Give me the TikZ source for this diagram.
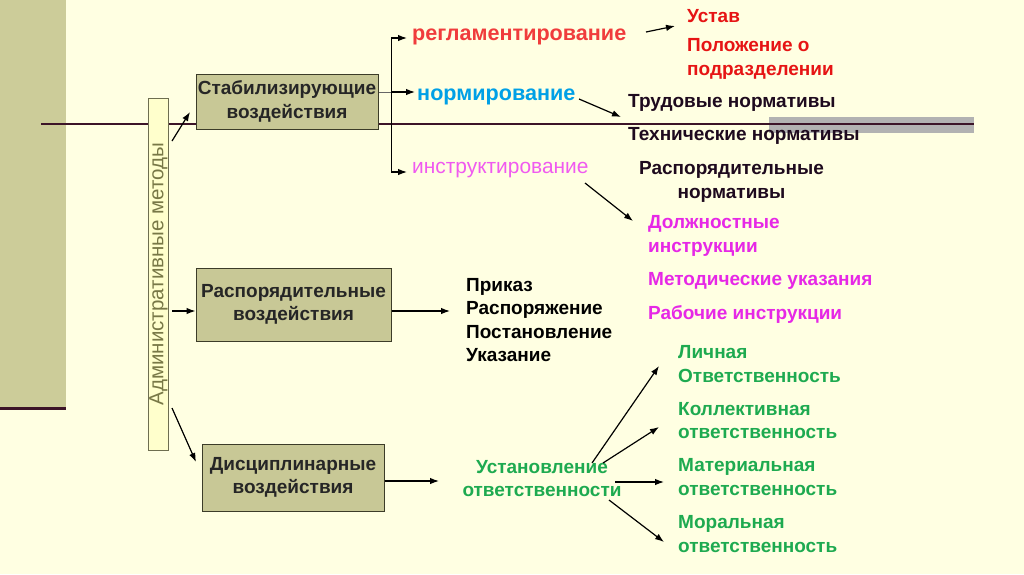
\documentclass[tikz,border=0pt]{standalone}
\usepackage{fontspec}
\setmainfont{Liberation Sans}
\usetikzlibrary{arrows.meta,calc}
\definecolor{bg}{RGB}{255,255,226}
\definecolor{band}{RGB}{204,204,153}
\definecolor{boxfill}{RGB}{200,200,150}
\definecolor{boxline}{RGB}{60,60,40}
\definecolor{barfill}{RGB}{255,255,204}
\definecolor{barline}{RGB}{110,110,80}
\definecolor{bartext}{RGB}{120,120,70}
\definecolor{maroon}{RGB}{60,20,40}
\definecolor{grayband}{RGB}{178,178,178}
\definecolor{redA}{RGB}{240,60,60}
\definecolor{redB}{RGB}{230,20,20}
\definecolor{blueA}{RGB}{0,160,230}
\definecolor{magA}{RGB}{240,90,240}
\definecolor{magB}{RGB}{230,40,230}
\definecolor{greenA}{RGB}{30,170,80}
\definecolor{dark}{RGB}{30,10,30}
\begin{document}
\begin{tikzpicture}[x=1pt,y=-1pt,
  arr/.style={-{Latex[length=9pt,width=6.5pt]},line width=1.2pt,black},
  boxnode/.style={draw=boxline,fill=boxfill,line width=1pt,align=center,font=\bfseries\fontsize{19}{23.5}\selectfont,text=black!85,inner sep=0pt},
  txt/.style={inner sep=0pt,anchor=west,align=left,font=\bfseries\fontsize{19}{23.5}\selectfont},
  meth/.style={inner sep=0pt,anchor=west,font=\bfseries\fontsize{21.6}{24}\selectfont}]
\useasboundingbox (0,0) rectangle (1024,574);
\fill[bg] (0,0) rectangle (1024,574);
\fill[band] (0,0) rectangle (66,408);
\draw[maroon,line width=3pt] (0,408) -- (66,408);
\fill[grayband] (769,117) rectangle (974,133);
\draw[maroon,line width=2pt] (41,124) -- (974,124);

% vertical bar
\node[draw=barline,fill=barfill,line width=1pt,minimum width=20pt,minimum height=352pt,inner sep=0pt] (bar) at (158,274) {};
\node[rotate=90,text=bartext,font=\fontsize{20.5}{22}\selectfont,inner sep=0pt] (bartxt) at (158.5,274) {Административные методы};

% boxes
\node[boxnode,minimum width=182pt,minimum height=55pt] (b1) at (287,101.5) {Стабилизирующие\\воздействия};
\node[boxnode,minimum width=195pt,minimum height=73pt] (b2) at (293.5,304.5) {Распорядительные\\воздействия};
\node[boxnode,minimum width=182pt,minimum height=67pt] (b3) at (293,477.5) {Дисциплинарные\\воздействия};

% arrows from bar
\coordinate (s1) at (172,141); \coordinate (e1) at (190,112);
\coordinate (s2) at (172,311); \coordinate (s3) at (172,408); \coordinate (e3) at (196,462);
\draw[arr] (s1) -- (e1);
\draw[arr] (s2) -- (b2.west |- s2);
\draw[arr] (s3) -- (e3);

% methods
\node[meth,text=redA] (reg) at (412,37) {регламентирование};
\node[meth,text=blueA] (norm) at (417,97) {нормирование};
\node[meth,text=magA,font=\fontsize{20.9}{24}\selectfont] (instr) at (412,170) {инструктирование};

\coordinate (br1) at (391,38);
\coordinate (br2) at (391,172);
\coordinate (bm) at (391,92);
\draw[line width=1pt] (br1) -- (br2);
\draw[arr] (br1) -- (407,38);
\draw[arr] (br2) -- (407,172);
\draw[line width=1pt,black!60] (b1.east |- bm) -- (bm);
\draw[arr] (bm) -- (415,92);

% right texts
\node[txt,text=redB] (ustav) at (687,16) {Устав};
\node[txt,text=redB] (polozh) at (687,59) {Положение о\\подразделении};
\node[txt,text=dark] (trud) at (628,103) {Трудовые нормативы};
\node[txt,text=dark] (tech) at (628,136) {Технические нормативы};
\node[inner sep=0pt,align=center,font=\bfseries\fontsize{19}{23.5}\selectfont,text=dark] (rasp) at (731.5,182) {Распорядительные\\нормативы};
\node[txt,text=magB] (dolzh) at (648,236) {Должностные\\инструкции};
\node[txt,text=magB] (metod) at (648,281) {Методические указания};
\node[txt,text=magB] (rab) at (648,314) {Рабочие инструкции};

\coordinate (r1s) at (646,32); \coordinate (r1e) at (675,26);
\draw[arr] (r1s) -- (r1e);
\coordinate (n1s) at (579,99); \coordinate (n1e) at (621,117);
\draw[arr] (n1s) -- (n1e);
\coordinate (i1s) at (585,183); \coordinate (i1e) at (633,221);
\draw[arr] (i1s) -- (i1e);

% orders
\node[txt,text=black] (orders) at (466,320) {Приказ\\Распоряжение\\Постановление\\Указание};
\draw[arr] (b2.east |- s2) -- (450,311);

% responsibility
\node[inner sep=0pt,align=center,font=\bfseries\fontsize{19}{23.5}\selectfont,text=greenA] (ust) at (542,478.5) {Установление\\ответственности};
\draw[arr] (b3.east |- 0,481) -- (439,481);

\node[txt,text=greenA] (l1) at (678,364) {Личная\\Ответственность};
\node[txt,text=greenA] (l2) at (678,420.5) {Коллективная\\ответственность};
\node[txt,text=greenA] (l3) at (678,477) {Материальная\\ответственность};
\node[txt,text=greenA] (l4) at (678,534) {Моральная\\ответственность};

\coordinate (u1s) at (592,463); \coordinate (u1e) at (659,366);
\coordinate (u2s) at (603,463); \coordinate (u2e) at (659,427);
\coordinate (u3s) at (615,482); \coordinate (u3e) at (664,482);
\coordinate (u4s) at (609,500); \coordinate (u4e) at (664,542);
\draw[arr] (u1s) -- (u1e);
\draw[arr] (u2s) -- (u2e);
\draw[arr] (u3s) -- (u3e);
\draw[arr] (u4s) -- (u4e);
\end{tikzpicture}
\end{document}
